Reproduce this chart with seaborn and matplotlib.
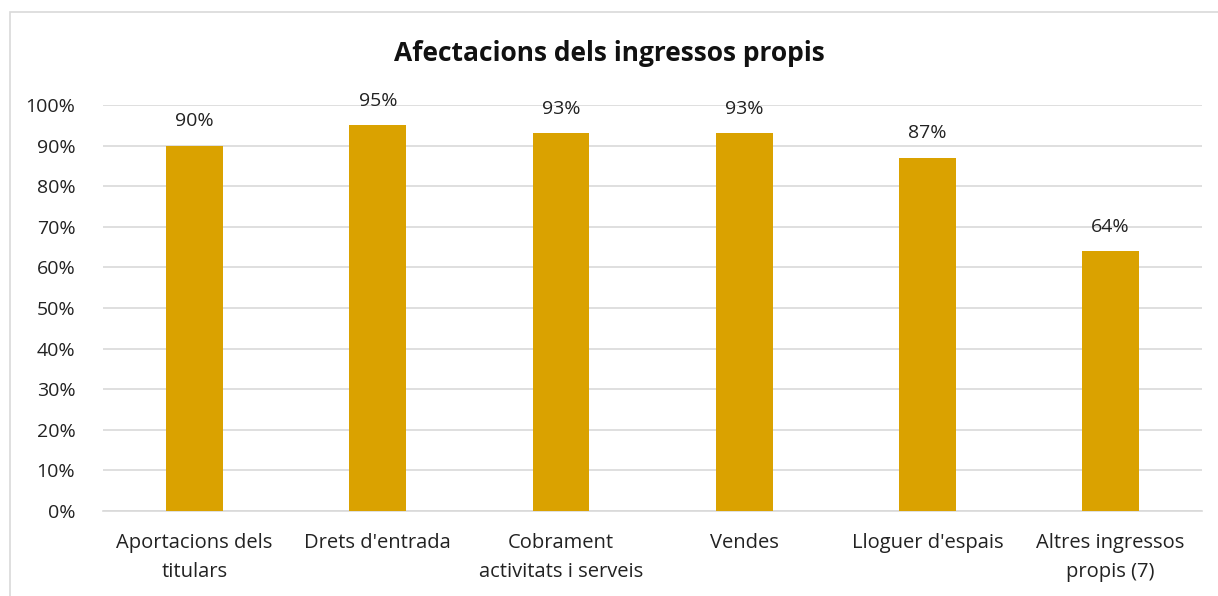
import matplotlib
matplotlib.use("Agg")
import matplotlib.pyplot as plt
import seaborn as sns
import pandas as pd
from matplotlib.patches import Rectangle

categories = ["Aportacions dels\ntitulars", "Drets d'entrada", "Cobrament\nactivitats i serveis",
              "Vendes", "Lloguer d'espais", "Altres ingressos\npropis (7)"]
values = [90, 95, 93, 93, 87, 64]
yticks = [0, 10, 20, 30, 40, 50, 60, 70, 80, 90, 100]

df = pd.DataFrame({"cat": categories, "val": values})

sns.set_theme(style="white")
plt.rcParams["font.family"] = ["Open Sans", "DejaVu Sans"]

fig = plt.figure(figsize=(12.18, 5.96), dpi=100)
ax = fig.add_axes([0.0846, 0.1426, 0.9024, 0.6812])

sns.barplot(data=df, x="cat", y="val", color="#DAA200", saturation=1, width=0.31,
            linewidth=0, ax=ax, zorder=3)

# value labels above bars
for i, v in enumerate(values):
    ax.text(i, v + 3.8, f"{v}%", ha="center", va="bottom", fontsize=14, color="#222222")

ax.set_ylim(0, 100)
ax.set_yticks(yticks)
ax.set_yticklabels([f"{t}%" for t in yticks], fontsize=14, color="#222222")
ax.set_xticks(range(len(categories)))
ax.set_xticklabels(categories, fontsize=14.5, color="#222222", linespacing=1.6)
ax.tick_params(axis="x", pad=10)
ax.tick_params(axis="y", pad=14)
ax.set_xlabel("")
ax.set_ylabel("")
ax.yaxis.grid(True, color="#D9D9D9", linewidth=1.2, zorder=0)
for s in ["top", "right", "left"]:
    ax.spines[s].set_visible(False)
ax.spines["bottom"].set_color("#D9D9D9")
ax.spines["bottom"].set_linewidth(1.2)

fig.text(0.5, 0.911, "Afectacions dels ingressos propis", ha="center", va="center",
         fontsize=19, fontweight="bold", color="#111111")

# chart area border
fig.patches.append(Rectangle((10 / 1218, -0.05), 1.2, 1 - 12 / 596 + 0.05, transform=fig.transFigure,
                             fill=False, edgecolor="#D9D9D9", linewidth=1.2))

fig.savefig("out.png", dpi=100)
